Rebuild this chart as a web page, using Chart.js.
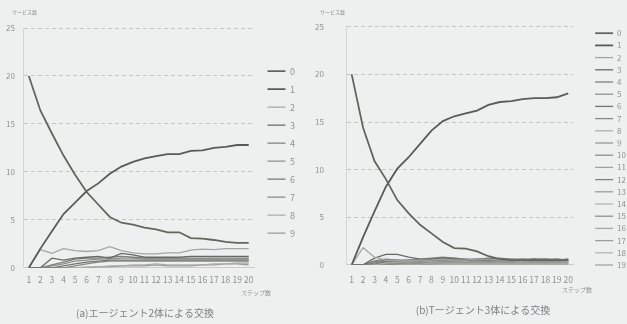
<!DOCTYPE html>
<html>
<head>
<meta charset="utf-8">
<script src="https://cdn.jsdelivr.net/npm/chart.js@4.4.1/dist/chart.umd.min.js"></script>
<style>
  body { margin: 0; background: #eef0f0; }
  #wrapA { position: absolute; left: 0; top: 0; width: 310px; height: 324px; }
  #wrapB { position: absolute; left: 310px; top: 0; width: 317px; height: 324px; }
</style>
</head>
<body>
<div id="wrapA"><canvas id="chartA"></canvas></div>
<div id="wrapB"><canvas id="chartB"></canvas></div>
<script>
const steps = ['1','2','3','4','5','6','7','8','9','10','11','12','13','14','15','16','17','18','19','20'];
const yTicks = [0, 5, 10, 15, 20, 25];

// (a) 2 agents
const a0 = [20, 16.4, 14.0, 11.7, 9.7, 7.9, 6.6, 5.3, 4.7, 4.5, 4.2, 4.0, 3.7, 3.7, 3.1, 3.05, 2.9, 2.7, 2.6, 2.6];
const a1 = [0, 2.0, 3.8, 5.6, 6.8, 8.0, 8.8, 9.8, 10.55, 11.05, 11.4, 11.65, 11.85, 11.85, 12.2, 12.25, 12.5, 12.6, 12.8, 12.8];
const a2 = [0, 1.9, 1.5, 2.0, 1.8, 1.7, 1.8, 2.2, 1.8, 1.55, 1.45, 1.45, 1.55, 1.55, 1.85, 1.95, 1.9, 2.0, 2.0, 2.0];
const a3 = [0, 0, 1.0, 0.8, 1.0, 1.1, 1.2, 1.0, 1.5, 1.35, 1.1, 1.1, 1.1, 1.1, 1.2, 1.2, 1.2, 1.2, 1.2, 1.2];
const a4 = [0, 0, 0.3, 0.6, 0.9, 1.0, 1.0, 1.1, 1.2, 1.1, 1.0, 1.0, 1.0, 1.0, 1.0, 1.0, 1.0, 1.0, 1.0, 1.0];
const a5 = [0, 0, 0.2, 0.4, 0.7, 0.8, 0.9, 0.9, 1.0, 1.0, 0.9, 0.9, 0.9, 0.9, 0.9, 0.9, 0.9, 0.9, 0.9, 0.9];
const a6 = [0, 0, 0, 0.2, 0.4, 0.6, 0.7, 0.8, 0.8, 0.8, 0.8, 0.8, 0.8, 0.8, 0.8, 0.8, 0.8, 0.8, 0.8, 0.8];
const a7 = [0, 0, 0, 0, 0.2, 0.4, 0.6, 0.7, 0.7, 0.7, 0.7, 0.7, 0.7, 0.7, 0.7, 0.7, 0.7, 0.7, 0.7, 0.7];
const a8 = [0, 0, 0, 0, 0, 0.1, 0.1, 0.2, 0.2, 0.3, 0.3, 0.4, 0.3, 0.3, 0.3, 0.3, 0.4, 0.4, 0.5, 0.5];
const a9 = [0, 0, 0, 0, 0, 0, 0.1, 0.1, 0.2, 0.2, 0.2, 0.3, 0.2, 0.2, 0.2, 0.3, 0.3, 0.4, 0.4, 0.3];

// (b) 3 agents
const b0 = [20, 14.4, 10.9, 9.0, 6.8, 5.4, 4.2, 3.3, 2.4, 1.75, 1.7, 1.4, 0.9, 0.6, 0.5, 0.5, 0.5, 0.5, 0.5, 0.5];
const b1 = [0, 2.9, 5.6, 8.2, 10.1, 11.3, 12.7, 14.1, 15.1, 15.6, 15.9, 16.2, 16.8, 17.1, 17.2, 17.4, 17.5, 17.5, 17.6, 18.0];
const b2 = [0, 1.8, 0.8, 0.5, 0.4, 0.4, 0.5, 0.5, 0.6, 0.5, 0.5, 0.6, 0.6, 0.5, 0.5, 0.5, 0.5, 0.5, 0.5, 0.5];
const b3 = [0, 0, 0.7, 1.1, 1.1, 0.8, 0.6, 0.6, 0.7, 0.6, 0.5, 0.6, 0.7, 0.6, 0.5, 0.5, 0.6, 0.5, 0.5, 0.6];
const b4 = [0, 0, 0.4, 0.6, 0.5, 0.5, 0.6, 0.7, 0.8, 0.7, 0.6, 0.6, 0.6, 0.7, 0.6, 0.6, 0.6, 0.6, 0.6, 0.5];
const b5 = [0, 0, 0.3, 0.5, 0.5, 0.4, 0.5, 0.6, 0.7, 0.7, 0.6, 0.5, 0.6, 0.6, 0.6, 0.5, 0.6, 0.6, 0.5, 0.6];
const b6 = [0, 0, 0.2, 0.4, 0.4, 0.5, 0.5, 0.5, 0.6, 0.6, 0.5, 0.5, 0.5, 0.5, 0.5, 0.6, 0.5, 0.5, 0.6, 0.5];
const b7 = [0, 0, 0.1, 0.3, 0.4, 0.4, 0.4, 0.5, 0.5, 0.5, 0.5, 0.5, 0.5, 0.6, 0.5, 0.5, 0.5, 0.6, 0.5, 0.5];
const b8 = [0, 0, 0, 0.2, 0.3, 0.4, 0.4, 0.4, 0.5, 0.5, 0.4, 0.5, 0.5, 0.5, 0.5, 0.4, 0.5, 0.5, 0.5, 0.4];
const b9 = [0, 0, 0, 0.2, 0.3, 0.3, 0.4, 0.4, 0.4, 0.4, 0.4, 0.4, 0.4, 0.4, 0.4, 0.4, 0.4, 0.4, 0.4, 0.4];
const b10 = [0, 0, 0, 0.1, 0.2, 0.3, 0.3, 0.4, 0.4, 0.4, 0.4, 0.4, 0.3, 0.4, 0.4, 0.4, 0.4, 0.3, 0.4, 0.4];
const b11 = [0, 0, 0, 0.1, 0.2, 0.2, 0.3, 0.3, 0.3, 0.3, 0.3, 0.3, 0.3, 0.3, 0.3, 0.3, 0.3, 0.3, 0.3, 0.3];
const b12 = [0, 0, 0, 0, 0.1, 0.2, 0.2, 0.3, 0.3, 0.3, 0.3, 0.3, 0.3, 0.3, 0.3, 0.3, 0.3, 0.3, 0.3, 0.3];
const b13 = [0, 0, 0, 0, 0.1, 0.1, 0.2, 0.2, 0.2, 0.3, 0.3, 0.3, 0.3, 0.3, 0.2, 0.3, 0.3, 0.3, 0.3, 0.3];
const b14 = [0, 0, 0, 0, 0, 0.1, 0.1, 0.2, 0.2, 0.2, 0.2, 0.2, 0.2, 0.2, 0.2, 0.2, 0.2, 0.2, 0.2, 0.2];
const b15 = [0, 0, 0, 0, 0, 0.1, 0.1, 0.1, 0.2, 0.2, 0.2, 0.2, 0.2, 0.2, 0.2, 0.2, 0.2, 0.2, 0.2, 0.2];
const b16 = [0, 0, 0, 0, 0, 0, 0.1, 0.1, 0.1, 0.1, 0.1, 0.2, 0.2, 0.1, 0.2, 0.2, 0.1, 0.2, 0.2, 0.2];
const b17 = [0, 0, 0, 0, 0, 0, 0, 0.1, 0.1, 0.1, 0.1, 0.1, 0.1, 0.1, 0.1, 0.1, 0.1, 0.1, 0.1, 0.1];
const b18 = [0, 0, 0, 0, 0, 0, 0, 0, 0.1, 0.1, 0.1, 0.1, 0.1, 0.1, 0.1, 0.1, 0.1, 0.1, 0.1, 0.1];
const b19 = [0, 0, 0, 0, 0, 0, 0, 0, 0, 0.1, 0.1, 0.1, 0.1, 0.1, 0.1, 0.1, 0.1, 0.1, 0.1, 0.1];

const seriesA = [a0, a1, a2, a3, a4, a5, a6, a7, a8, a9];
const seriesB = [b0, b1, b2, b3, b4, b5, b6, b7, b8, b9, b10, b11, b12, b13, b14, b15, b16, b17, b18, b19];

const greys = ['#62665f', '#585c57', '#a2a6a2', '#666a65', '#7c807c', '#8d918d', '#727672', '#868a86', '#aaaeaa', '#959995',
               '#8a8e8a', '#9ea29e', '#7f837f', '#999d99', '#b0b4b0', '#8c908c', '#a6aaa6', '#9a9e9a', '#b3b7b3', '#a0a49f'];

const textColor = '#8e9292';
const fontFam = '"Noto Sans CJK JP", "Noto Sans", sans-serif';

function makeDatasets(series) {
    return series.map((values, i) => ({
        label: String(i),
        data: values,
        borderColor: greys[i],
        backgroundColor: greys[i],
        borderWidth: i < 2 ? 1.8 : 1.3,
        pointRadius: 0,
        tension: 0
    }));
}

// axis names and caption, placed like the figure
const notesPlugin = {
    id: 'notes',
    afterDraw(chart, args, o) {
        const ctx = chart.ctx;
        ctx.save();
        ctx.textBaseline = 'middle';
        ctx.fillStyle = textColor;
        ctx.font = '5px ' + fontFam;
        ctx.textAlign = 'left';
        ctx.fillText('サービス数', o.yNameX, o.yNameY);
        ctx.textAlign = 'center';
        ctx.font = '6px ' + fontFam;
        ctx.fillText('ステップ数', o.xNameX, o.xNameY);
        ctx.fillStyle = '#7d8181';
        ctx.font = '10px ' + fontFam;
        ctx.fillText(o.caption, o.capX, o.capY);
        ctx.restore();
    }
};

function makeChart(id, series, opts) {
    const ctx = document.getElementById(id).getContext('2d');
    return new Chart(ctx, {
        type: 'line',
        data: { labels: steps, datasets: makeDatasets(series) },
        plugins: [notesPlugin],
        options: {
            responsive: true,
            maintainAspectRatio: false,
            animation: false,
            layout: { padding: opts.padding },
            scales: {
                x: {
                    type: 'category',
                    offset: true,
                    grid: { display: false, drawTicks: false },
                    border: { color: '#c9cdcc' },
                    ticks: { color: textColor, font: { family: fontFam, size: 8.5 }, maxRotation: 0, autoSkip: false, padding: opts.xPad }
                },
                y: {
                    min: 0,
                    max: 25,
                    afterBuildTicks(axis) { axis.ticks = yTicks.map(v => ({ value: v })); },
                    afterFit(axis) { axis.width = opts.yWidth; },
                    grid: { color: '#c3c7c6', drawTicks: false },
                    border: { display: true, color: '#d3d7d6', dash: [4, 3] },
                    ticks: { color: textColor, font: { family: fontFam, size: 8 }, padding: opts.yPad }
                },
                // empty axis on the right, only keeps a gap before the legend
                gap: {
                    position: 'right',
                    display: true,
                    grid: { display: false },
                    border: { display: false },
                    ticks: { display: false },
                    afterFit(axis) { axis.width = opts.legendGap; }
                }
            },
            plugins: {
                title: { display: false },
                legend: {
                    position: 'right',
                    align: 'start',
                    title: { display: opts.legendTop > 0, text: ' ', font: { size: 1 }, padding: { top: 0, bottom: opts.legendTop } },
                    labels: {
                        usePointStyle: true, pointStyle: 'line', pointStyleWidth: 18,
                        color: textColor, font: { family: fontFam, size: opts.legendFont }, padding: opts.legendPad
                    }
                },
                notes: opts.notes,
                tooltip: { enabled: false }
            }
        }
    });
}

makeChart('chartA', seriesA,
    { padding: { left: 0, right: 5, top: 28, bottom: 32 }, yWidth: 23, yPad: 8, xPad: 7,
      legendGap: 4, legendTop: 28.4, legendFont: 9, legendPad: 9,
      notes: { caption: '(a)エージェント2体による交換', capX: 145, capY: 313, xNameX: 256, xNameY: 293, yNameX: 12, yNameY: 12 } });
makeChart('chartB', seriesB,
    { padding: { left: 0, right: -9, top: 25, bottom: 29 }, yWidth: 36, yPad: 22, xPad: 10,
      legendGap: 17, legendTop: 0, legendFont: 8, legendPad: 4.2,
      notes: { caption: '(b)Tージェント3体による交換', capX: 173, capY: 310, xNameX: 267, xNameY: 290, yNameX: 10, yNameY: 12 } });
</script>
</body>
</html>
